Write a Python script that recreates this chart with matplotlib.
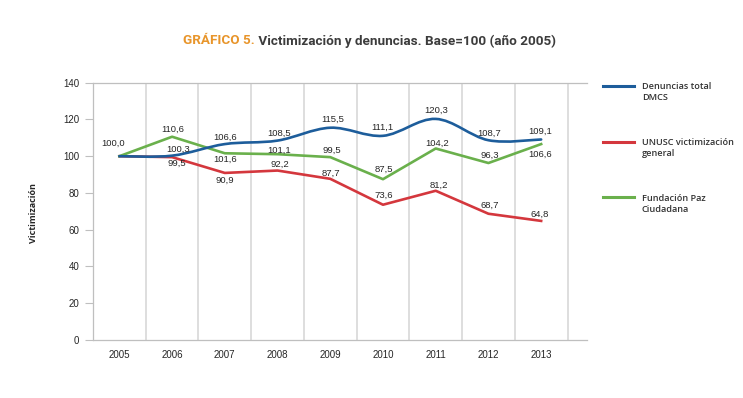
import numpy as np
import matplotlib
matplotlib.use("Agg")
import matplotlib.pyplot as plt
from matplotlib.path import Path
from matplotlib.patches import PathPatch
from matplotlib.lines import Line2D
from matplotlib.legend_handler import HandlerLine2D

# ---------------- data ----------------
years = ["2005", "2006", "2007", "2008", "2009", "2010", "2011", "2012", "2013"]
denuncias = [100.0, 100.3, 106.6, 108.5, 115.5, 111.1, 120.3, 108.7, 109.1]
unusc = [100.0, 99.5, 90.9, 92.2, 87.7, 73.6, 81.2, 68.7, 64.8]
paz_ciudadana = [100.0, 110.6, 101.6, 101.1, 99.5, 87.5, 104.2, 96.3, 106.6]
series_names = ["Denuncias total\nDMCS", "UNUSC victimización\ngeneral", "Fundación Paz\nCiudadana"]
yticks = [0, 20, 40, 60, 80, 100, 120, 140]

# label visibility / offsets (pixels) -- styling, not data
den_show = [True] * 9
unu_show = [False] + [True] * 8
paz_show = [False] + [True] * 8
den_off = [(-6, 13), (6, 6), (0, 7), (2, 7), (2, 8), (-1, 9), (0, 9), (1, 7), (-1, 8)]
unu_off = [(0, 0), (5, -6), (0, -7), (2, 6), (1, 5.5), (1, 9), (3, 5), (1, 8), (-1, 7)]
paz_off = [(0, 0), (1, 7), (0, -6), (2, 4), (2, 7), (1, 10), (1, 5), (1, 8), (-1, -10)]

C_BLUE = "#1d5d9b"
C_RED = "#d4373d"
C_GREEN = "#6ab04c"
C_GRID = "#d4d4d4"
C_AXIS = "#bfbfbf"
C_TEXT = "#262626"

W, H = 743, 398
fig = plt.figure(figsize=(W / 100, H / 100), dpi=100)
ax = fig.add_axes([93 / W, 1 - 340 / H, (586.5 - 93) / W, (340 - 82.7) / H])

x = np.arange(len(years))


def smooth_path(xs, ys):
    pts = np.column_stack([xs, ys]).astype(float)
    n = len(pts)
    verts = [pts[0]]
    codes = [Path.MOVETO]
    for i in range(n - 1):
        p0 = pts[i - 1] if i > 0 else pts[i]
        p1 = pts[i]
        p2 = pts[i + 1]
        p3 = pts[i + 2] if i + 2 < n else pts[i + 1]
        c1 = p1 + (p2 - p0) / 6.0
        c2 = p2 - (p3 - p1) / 6.0
        verts += [c1, c2, p2]
        codes += [Path.CURVE4] * 3
    return Path(verts, codes)


lw = 1.9
ax.add_patch(PathPatch(smooth_path(x, denuncias), fill=False, edgecolor=C_BLUE,
                       lw=lw, zorder=4, capstyle="round", joinstyle="round"))
ax.plot(x, unusc, color=C_RED, lw=lw, zorder=3, solid_joinstyle="round")
ax.plot(x, paz_ciudadana, color=C_GREEN, lw=lw, zorder=3, solid_joinstyle="round")

# data labels
lab_font = dict(family=["Liberation Sans", "DejaVu Sans"], fontsize=6.8, color=C_TEXT)
def fmt(v):
    return f"{v:.1f}".replace(".", ",")

for vals, show, offs in [(denuncias, den_show, den_off), (unusc, unu_show, unu_off),
                         (paz_ciudadana, paz_show, paz_off)]:
    for i, v in enumerate(vals):
        if not show[i]:
            continue
        dx, dy = offs[i]
        ax.annotate(fmt(v), (x[i], v), xytext=(dx * 0.72, dy * 0.72),
                    textcoords="offset points", ha="center", va="center", zorder=6,
                    **lab_font)

# axes styling
ax.set_xlim(-0.5, 8.86)
ax.set_ylim(0, 140)
ax.set_yticks(yticks)
ax.set_yticklabels([str(t) for t in yticks])
ax.set_xticks(x)
ax.set_xticklabels(years)
ax.set_xticks(np.arange(-0.5, 9, 1.0), minor=True)
ax.tick_params(axis="x", which="both", length=0, pad=7)
ax.tick_params(axis="y", length=6, width=0.8, color=C_AXIS, pad=4)
ax.xaxis.grid(True, which="minor", color=C_GRID, lw=1.1)
ax.xaxis.grid(False, which="major")
for lbl in ax.get_xticklabels() + ax.get_yticklabels():
    lbl.set_fontfamily(["Liberation Sans", "DejaVu Sans"])
    lbl.set_fontsize(7)
    lbl.set_color(C_TEXT)
ax.spines["right"].set_visible(False)
for s in ["left", "bottom", "top"]:
    ax.spines[s].set_color(C_AXIS)
    ax.spines[s].set_linewidth(0.9)

ax.set_ylabel("Victimización", fontsize=6.5, fontweight="bold", color=C_TEXT,
              family=["Open Sans", "DejaVu Sans"], labelpad=12)
ax.yaxis.set_label_coords((38 - 93) / (586.5 - 93), (340 - 213) / (340 - 82.7))

# legend
class UpperHandler(HandlerLine2D):
    def create_artists(self, legend, orig_handle, xdescent, ydescent, width,
                       height, fontsize, trans):
        arts = super().create_artists(legend, orig_handle, xdescent, ydescent,
                                      width, height, fontsize, trans)
        for a in arts:
            if isinstance(a, Line2D):
                a.set_ydata(np.asarray(a.get_ydata()) + 0.75 * fontsize)
        return arts

handles = [Line2D([], [], color=c, lw=2.2) for c in (C_BLUE, C_RED, C_GREEN)]
leg = fig.legend(handles, series_names, loc="upper left",
                 bbox_to_anchor=(595 / W, 1 - 74 / H), frameon=False,
                 prop=dict(family=["Open Sans", "DejaVu Sans"], size=6.6, weight="semibold"),
                 handlelength=3.4, handletextpad=0.8, labelspacing=3.9,
                 handler_map={Line2D: UpperHandler()})
for t in leg.get_texts():
    t.set_color("#333333")
    t.set_linespacing(1.3)

# title
t1 = fig.text(183 / W, 1 - 44.5 / H, "GRÁFICO 5.", ha="left", va="baseline",
              fontsize=9.7, fontweight="bold", color="#e8952b",
              family=["Roboto", "DejaVu Sans"])
fig.canvas.draw()
ax.annotate(" Victimización y denuncias. Base=100 (año 2005)", xy=(1, 0),
            xycoords=t1, ha="left", va="bottom", fontsize=9.7, fontweight="bold",
            color="#3c3c3c", family=["Roboto", "DejaVu Sans"], annotation_clip=False)

fig.savefig("out.png", dpi=100)
